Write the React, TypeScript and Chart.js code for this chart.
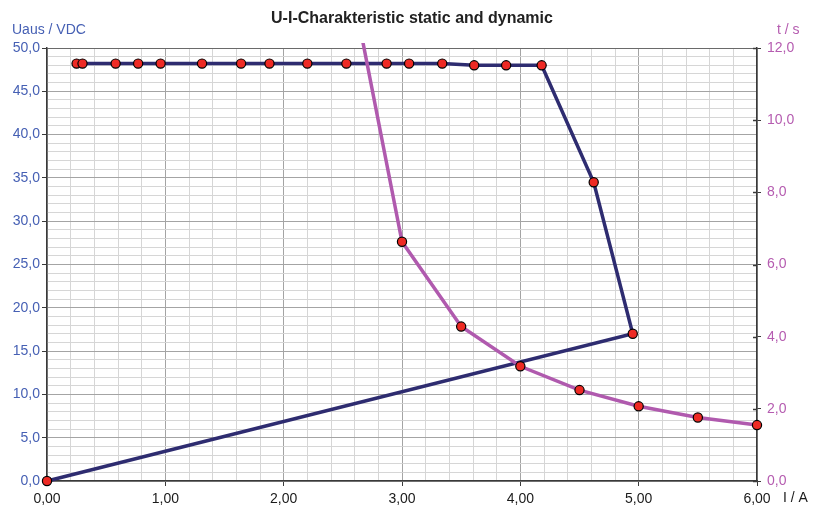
import React, { useEffect, useRef } from "react";
import { Chart, registerables } from "chart.js";

Chart.register(...registerables);

// Static U-I characteristic (left axis, U in V vs I in A)
const staticCurrent = [0.25, 0.3, 0.58, 0.77, 0.96, 1.31, 1.64, 1.88, 2.2, 2.53, 2.87, 3.06, 3.34, 3.61, 3.88, 4.18, 4.62, 4.95, 0.0];
const staticVoltage = [48.2, 48.2, 48.2, 48.2, 48.2, 48.2, 48.2, 48.2, 48.2, 48.2, 48.2, 48.2, 48.2, 48.0, 48.0, 48.0, 34.5, 17.0, 0.0];

// Dynamic characteristic (right axis, t in s vs I in A)
const dynamicCurrent = [2.5, 3.0, 3.5, 4.0, 4.5, 5.0, 5.5, 6.0];
const dynamicTime = [15.0, 6.63, 4.28, 3.18, 2.52, 2.07, 1.76, 1.55];

const titleText = "U-I-Charakteristic static and dynamic";
const leftAxisTitle = "Uaus / VDC";
const rightAxisTitle = "t / s";
const xAxisTitle = "I / A";

const FONT = "'Liberation Sans', Arial, sans-serif";
const NAVY = "#2e2c70";
const MAGENTA = "#b05aae";
const BLUE_TXT = "#4660b4";
const MAG_TXT = "#b55cb0";
const RED = "#ee2a24";
const GRID_MAJOR = "#a4a4a4";
const GRID_MINOR = "#d6d6d6";
const AXIS = "#3a3a3a";

const isMult = (v: number, m: number) => Math.abs(v / m - Math.round(v / m)) < 1e-6;
const comma = (v: number, d: number) => v.toFixed(d).replace(".", ",");

export default function App() {
  const ref = useRef<HTMLCanvasElement | null>(null);

  useEffect(() => {
    document.body.style.margin = "0";
    const canvas = ref.current;
    if (!canvas) return;

    const textPlugin = {
      id: "texts",
      afterDraw(chart: any) {
        const ctx = chart.ctx;
        ctx.save();
        // right axis tick marks crossing inward
        const y2 = chart.scales.y2;
        ctx.strokeStyle = AXIS;
        ctx.lineWidth = 1.5;
        y2.ticks.forEach((t: any) => {
          const py = Math.round(y2.getPixelForValue(t.value)) + 0.5;
          ctx.beginPath();
          ctx.moveTo(y2.left - 4, py);
          ctx.lineTo(y2.left, py);
          ctx.stroke();
        });
        ctx.textBaseline = "middle";
        ctx.font = `bold 16px ${FONT}`;
        ctx.fillStyle = "#222222";
        ctx.textAlign = "center";
        ctx.fillText(titleText, 412, 19);
        ctx.font = `14px ${FONT}`;
        ctx.textAlign = "left";
        ctx.fillStyle = BLUE_TXT;
        ctx.fillText(leftAxisTitle, 12, 30);
        ctx.fillStyle = MAG_TXT;
        ctx.fillText(rightAxisTitle, 777, 30);
        ctx.fillStyle = "#1a1a1a";
        ctx.fillText(xAxisTitle, 783, 498);
        ctx.restore();
      },
    };

    const common = {
      showLine: true,
      borderWidth: 3.5,
      pointBackgroundColor: RED,
      pointBorderColor: "#000000",
      pointBorderWidth: 1.2,
      pointRadius: 4.6,
      tension: 0,
      clip: { left: 8, right: 8, top: 5, bottom: 8 },
    };

    const chart = new Chart(canvas, {
      type: "scatter",
      data: {
        datasets: [
          {
            ...common,
            label: "t",
            data: dynamicCurrent.map((x, i) => ({ x, y: dynamicTime[i] })),
            yAxisID: "y2",
            borderColor: MAGENTA,
            order: 0,
          },
          {
            ...common,
            label: "U",
            data: staticCurrent.map((x, i) => ({ x, y: staticVoltage[i] })),
            yAxisID: "y",
            borderColor: NAVY,
            order: 1,
          },
        ],
      },
      options: {
        responsive: false,
        animation: false,
        events: [],
        layout: { padding: { top: 48, left: 0, right: 0, bottom: 0 } },
        plugins: { legend: { display: false }, tooltip: { enabled: false }, title: { display: false } },
        scales: {
          x: {
            type: "linear",
            position: "bottom",
            min: 0,
            max: 6,
            afterFit: (s: any) => { s.height = 27; },
            ticks: {
              stepSize: 0.2,
              autoSkip: false,
              maxRotation: 0,
              padding: 5,
              color: "#1a1a1a",
              font: { family: FONT, size: 14 },
              callback: (v: any) => (isMult(Number(v), 1) ? comma(Number(v), 2) : ""),
            },
            grid: {
              color: (c: any) => (isMult(c.tick.value, 1) ? GRID_MAJOR : GRID_MINOR),
              tickColor: (c: any) => (isMult(c.tick.value, 1) ? AXIS : "rgba(0,0,0,0)"),
              tickLength: 5,
              lineWidth: 1,
            },
            border: { color: AXIS, width: 1.5 },
          },
          y: {
            type: "linear",
            position: "left",
            min: 0,
            max: 50,
            afterFit: (s: any) => { s.width = 47; },
            ticks: {
              stepSize: 1,
              autoSkip: false,
              padding: 2,
              color: BLUE_TXT,
              font: { family: FONT, size: 14 },
              callback: (v: any) => (isMult(Number(v), 5) ? comma(Number(v), 1) : ""),
            },
            grid: {
              color: (c: any) => (c.tick.value === 50 ? "#6a6a6a" : isMult(c.tick.value, 5) ? GRID_MAJOR : GRID_MINOR),
              tickColor: (c: any) => (isMult(c.tick.value, 5) ? AXIS : "rgba(0,0,0,0)"),
              tickLength: 5,
              lineWidth: 1,
            },
            border: { color: AXIS, width: 1.5 },
          },
          y2: {
            type: "linear",
            position: "right",
            min: 0,
            max: 12,
            afterFit: (s: any) => { s.width = 57; },
            ticks: {
              stepSize: 2,
              autoSkip: false,
              padding: 6,
              color: MAG_TXT,
              font: { family: FONT, size: 14 },
              callback: (v: any) => comma(Number(v), 1),
            },
            grid: {
              drawOnChartArea: false,
              tickColor: AXIS,
              tickLength: 4,
            },
            border: { color: AXIS, width: 1.5 },
          },
        },
      },
      plugins: [textPlugin],
    } as any);

    return () => chart.destroy();
  }, []);

  return (
    <div style={{ width: 814, height: 508, background: "#ffffff" }}>
      <canvas ref={ref} width={814} height={508} style={{ display: "block" }} />
    </div>
  );
}
